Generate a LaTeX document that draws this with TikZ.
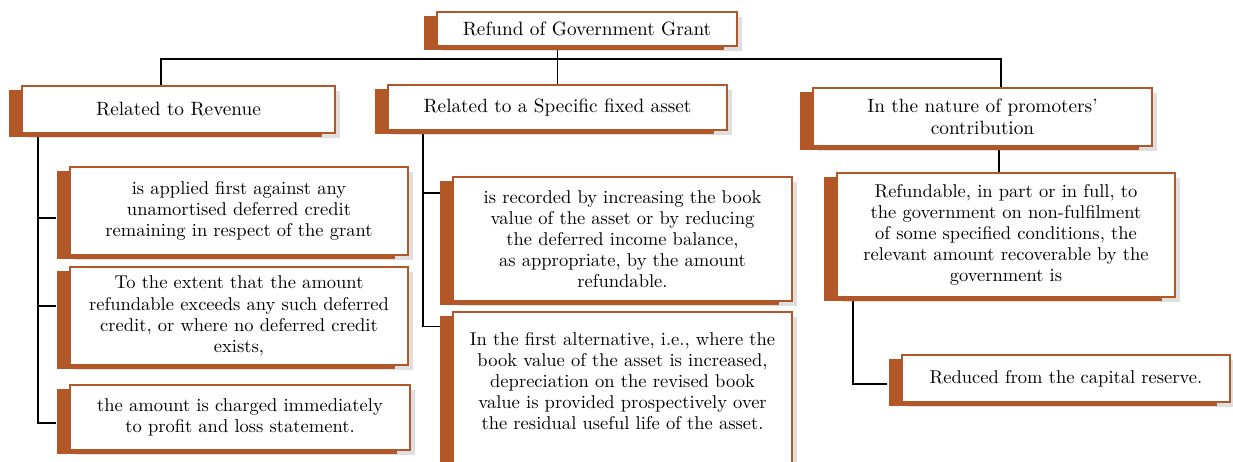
\documentclass[tikz,border=0pt]{standalone}
\usepackage{xcolor}
\usepackage{tikz}
\usetikzlibrary{shadows, backgrounds, calc}

\definecolor{rust}{RGB}{178,88,40}

\begin{document}
\begin{tikzpicture}[
    x=0.54pt, y=-0.54pt,
    box/.style={rectangle, draw=rust, line width=0.9pt, fill=white, align=center, inner sep=2pt,
        font=\fontsize{10}{11.4}\selectfont,
        drop shadow={shadow xshift=2.5pt, shadow yshift=-2.5pt, opacity=0.25},
        general shadow={fill=rust, shadow xshift=-7pt, shadow yshift=-2pt}},
    head/.style={box, font=\fontsize{10.4}{12}\selectfont},
    link/.style={draw=black, line width=0.7pt},
]
\clip (0,0) rectangle (1233,462);

% top and headings
\node[head, minimum width=162pt, minimum height=18.4pt] (grant) at (587,29) {Refund of Government Grant};
\node[head, minimum width=169pt, minimum height=25.4pt] (revenue) at (178.5,109.5) {Related to Revenue};
\node[head, minimum width=183pt, minimum height=24.3pt] (asset) at (557.5,107.5) {Related to a Specific fixed asset};
\node[head, minimum width=183pt, minimum height=31.3pt] (promoter) at (982.5,117) {In the nature of promoters'\\contribution};

% revenue column
\node[box, minimum width=182.5pt, minimum height=47.5pt] (rev1) at (239,211) {is applied first against any\\unamortised deferred credit\\remaining in respect of the grant};
\node[box, minimum width=182.5pt, minimum height=52.9pt] (rev2) at (239,316) {To the extent that the amount\\refundable exceeds any such deferred\\credit, or where no deferred credit\\exists,};
\node[box, minimum width=183.6pt, minimum height=35.1pt] (rev3) at (240,417.5) {the amount is charged immediately\\to profit and loss statement.};

% fixed asset column
\node[box, minimum width=183pt, minimum height=67pt] (asset1) at (622.5,239) {is recorded by increasing the book\\value of the asset or by reducing\\the deferred income balance,\\as appropriate, by the amount\\refundable.};
\node[box, minimum width=183pt, minimum height=90.7pt] (asset2) at (622.5,396) {In the first alternative, i.e., where the\\book value of the asset is increased,\\depreciation on the revised book\\value is provided prospectively over\\the residual useful life of the asset.\\[4.6pt]\mbox{}};

% promoters column
\node[box, minimum width=182.5pt, minimum height=67pt] (prom1) at (1006,235) {Refundable, in part or in full, to\\the government on non-fulfilment\\of some specified conditions, the\\relevant amount recoverable by the\\government is};
\node[box, minimum width=177pt, minimum height=25.4pt] (prom2) at (1066,378.5) {Reduced from the capital reserve.};

\begin{scope}[on background layer]
\coordinate (bus) at (557,59);
\draw[link] (grant.south -| asset.north) -- (asset.north);
\draw[link] ([shift={(-17.5,0)}]revenue.north) |- (bus) -| ([shift={(18.5,0)}]promoter.north);
\foreach \n/\dy in {rev1/7, rev2/-10, rev3/5.5}
    \draw[link] ([shift={(-140.5,0)}]revenue.south) |- ([shift={(-13,\dy)}]\n.west);
\foreach \n/\dy in {asset1/17, asset2/15}
    \draw[link] ([shift={(-134.5,0)}]asset.south) |- ([shift={(-12,\dy)}]\n.north west);
\draw[link] ([shift={(16.5,0)}]promoter.south) -- ([shift={(16.5,0)}]promoter.south |- prom1.north);
\draw[link] ([shift={(-153,0)}]prom1.south) |- ([shift={(-14,5.5)}]prom2.west);
\end{scope}
\end{tikzpicture}
\end{document}
